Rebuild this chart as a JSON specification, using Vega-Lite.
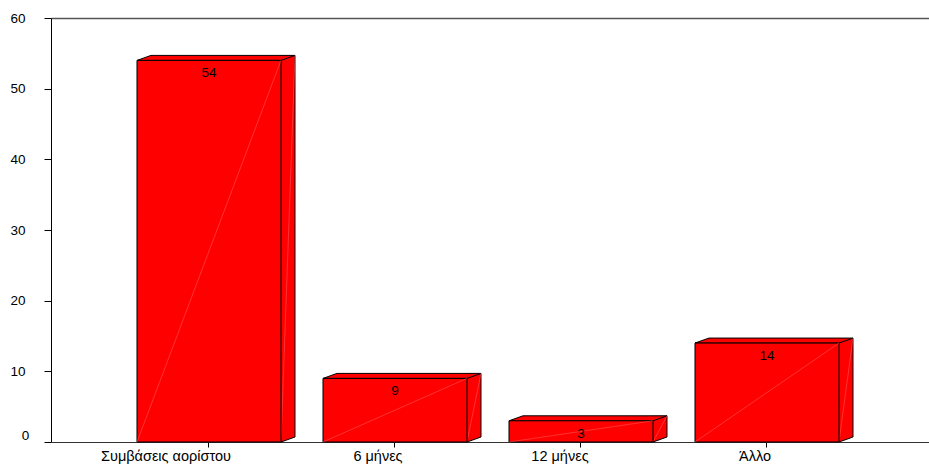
{
  "$schema": "https://vega.github.io/schema/vega-lite/v6.json",
  "width": 878,
  "height": 424,
  "autosize": {"type": "none"},
  "padding": {"left": 51, "top": 18, "right": 0, "bottom": 28},
  "background": "white",
  "config": {
    "view": {"stroke": null},
    "font": "Liberation Sans",
    "axis": {"labelFont": "Liberation Sans", "labelColor": "black", "grid": false, "title": null}
  },
  "data": {
    "values": [
      {"cat": "Συμβάσεις αορίστου", "value": 54},
      {"cat": "6 μήνες", "value": 9},
      {"cat": "12 μήνες", "value": 3},
      {"cat": "Άλλο", "value": 14}
    ]
  },
  "encoding": {
    "x": {
      "field": "cat", "type": "nominal", "sort": null,
      "scale": {"type": "band", "paddingInner": 0, "paddingOuter": 0.3602, "align": 0.485},
      "axis": {"labelAngle": 0, "labelFontSize": 14.5, "tickSize": 5, "tickColor": "black", "domainColor": "#333333", "labelPadding": 2,
        "labelOffset": {"condition": [
          {"test": "datum.value === 'Συμβάσεις αορίστου'", "value": -43},
          {"test": "datum.value === '6 μήνες'", "value": -17},
          {"test": "datum.value === '12 μήνες'", "value": -21}
        ], "value": -12}}
    }
  },
  "layer": [
    {
      "mark": {"type": "bar", "width": 14, "xOffset": 79, "yOffset": -5, "y2Offset": -5, "fill": "#ff0000", "stroke": null},
      "encoding": {
        "y": {"field": "value", "type": "quantitative", "scale": {"domain": [0, 60], "nice": false},
          "axis": {"values": [0, 10, 20, 30, 40, 50, 60], "labelFontSize": 13.5, "tickSize": 7, "tickColor": "black", "domainColor": "black", "labelPadding": 19,
            "grid": true, "gridColor": "#555555", "gridWidth": 1.5,
            "gridOpacity": {"condition": {"test": "datum.value === 60", "value": 1}, "value": 0},
            "labelAlign": {"condition": {"test": "datum.value === 0", "value": "center"}, "value": "right"},
            "labelBaseline": {"condition": {"test": "datum.value === 0", "value": "bottom"}, "value": "middle"}}}
      }
    },
    {
      "mark": {"type": "rule", "xOffset": 86, "yOffset": -5, "y2Offset": -5, "color": "black", "strokeWidth": 1},
      "encoding": {"y": {"field": "value", "type": "quantitative"}, "y2": {"datum": 0}}
    },
    {
      "mark": {"type": "point", "shape": "M72,-5 L72,0 L86,-5", "size": 4, "filled": true, "opacity": 1, "fill": "#ff0000", "stroke": "black", "strokeWidth": 1},
      "encoding": {"y": {"datum": 0, "type": "quantitative"}}
    },
    {
      "mark": {"type": "point", "shape": "M-72,0 L72,0 L86,-5 L-58,-5 Z", "size": 4, "filled": true, "opacity": 1, "fill": "#ff0000", "stroke": "black", "strokeWidth": 1},
      "encoding": {"y": {"field": "value", "type": "quantitative"}}
    },
    {
      "mark": {"type": "rule", "xOffset": 86, "yOffset": -5, "x2Offset": 72, "color": "#ff6464", "strokeWidth": 0.5},
      "encoding": {"x2": {"field": "cat"}, "y": {"field": "value", "type": "quantitative"}, "y2": {"datum": 0}}
    },
    {
      "mark": {"type": "bar", "width": 144, "fill": "#ff0000", "stroke": "black", "strokeWidth": 1},
      "encoding": {"y": {"field": "value", "type": "quantitative"}}
    },
    {
      "mark": {"type": "rule", "xOffset": 72, "x2Offset": -72, "color": "#ff6464", "strokeWidth": 0.5},
      "encoding": {"x2": {"field": "cat"}, "y": {"field": "value", "type": "quantitative"}, "y2": {"datum": 0}}
    },
    {
      "mark": {"type": "text", "yOffset": 13, "baseline": "middle", "align": "center", "fontSize": 13.5, "color": "black", "font": "Liberation Sans"},
      "encoding": {"y": {"field": "value", "type": "quantitative"}, "text": {"field": "value", "type": "quantitative"}}
    }
  ]
}
